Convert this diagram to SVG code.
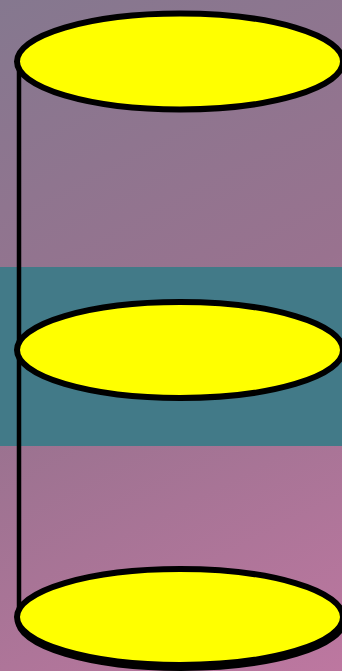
<svg xmlns="http://www.w3.org/2000/svg" width="342" height="671" viewBox="0 0 342 671">
<defs>
<linearGradient id="bg" gradientUnits="userSpaceOnUse" x1="0" y1="0" x2="342" y2="671">
<stop offset="0" stop-color="#85788f"/>
<stop offset="0.5" stop-color="#99728f"/>
<stop offset="1" stop-color="#bd77a0"/>
</linearGradient>
<style>
.node{fill:#ffff00;stroke:#000;stroke-width:6}
.conn{stroke:#000;stroke-width:4.5;fill:none}
</style>
</defs>
<rect width="342" height="671" fill="url(#bg)"/>
<rect x="0" y="267" width="342" height="179" fill="#427a88"/>
<g id="connectors">
<line class="conn" x1="19" y1="61" x2="19" y2="617"/>
</g>
<g id="node1"><ellipse class="node" cx="180" cy="61.5" rx="163" ry="48"/></g>
<g id="node2"><ellipse class="node" cx="180" cy="350" rx="163" ry="48"/></g>
<g id="node3">
<ellipse cx="181" cy="620" rx="163" ry="48" fill="#000" stroke="#000" stroke-width="6"/>
<ellipse class="node" cx="180" cy="617" rx="163" ry="48"/>
</g>
</svg>
